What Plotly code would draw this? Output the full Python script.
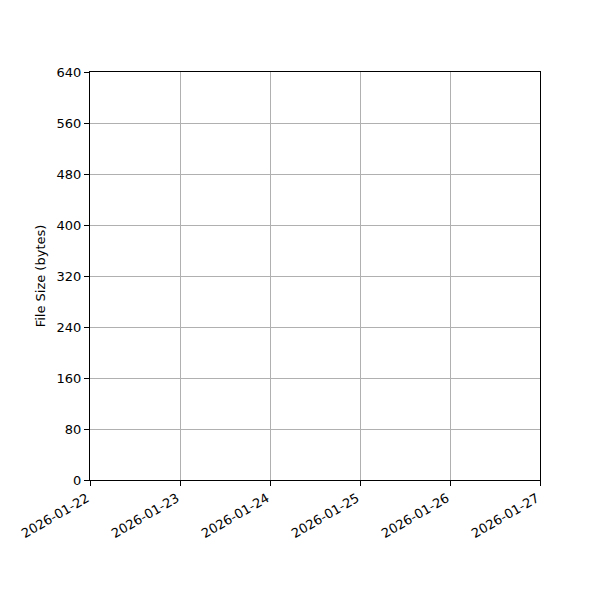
import plotly.graph_objects as go

# Data (the reference chart shows no data points)
dates = []
file_sizes = []

x_tick_labels = ["2026-01-22", "2026-01-23", "2026-01-24", "2026-01-25", "2026-01-26", "2026-01-27"]
y_tick_values = [0, 80, 160, 240, 320, 400, 480, 560, 640]

fig = go.Figure()
fig.add_trace(go.Scatter(x=dates, y=file_sizes, mode="lines+markers", showlegend=False))

axis_common = dict(
    showline=True, linecolor="black", linewidth=1, mirror=True,
    ticks="outside", ticklen=5, tickcolor="black", tickwidth=1,
    showgrid=True, gridcolor="#b0b0b0", gridwidth=1, zeroline=False,
    tickfont=dict(family="DejaVu Sans", size=13, color="black"),
    automargin=False,
)

# page body has an 8px default margin, so compensate in the figure margins
fig.update_layout(
    width=600, height=600,
    margin=dict(l=82, r=68, t=64, b=128, autoexpand=False),
    paper_bgcolor="white", plot_bgcolor="white",
    font=dict(family="DejaVu Sans", size=13, color="black"),
    xaxis=dict(
        type="date",
        range=[x_tick_labels[0], x_tick_labels[-1]],
        tickvals=x_tick_labels, ticktext=x_tick_labels,
        tickangle=-30,
        ticklabelshift=-3,
        **axis_common,
    ),
    yaxis=dict(
        range=[y_tick_values[0], y_tick_values[-1]],
        tickvals=y_tick_values,
        title=dict(text="File Size (bytes)", font=dict(family="DejaVu Sans", size=13), standoff=8),
        **axis_common,
    ),
)

fig.write_html("out.html")
